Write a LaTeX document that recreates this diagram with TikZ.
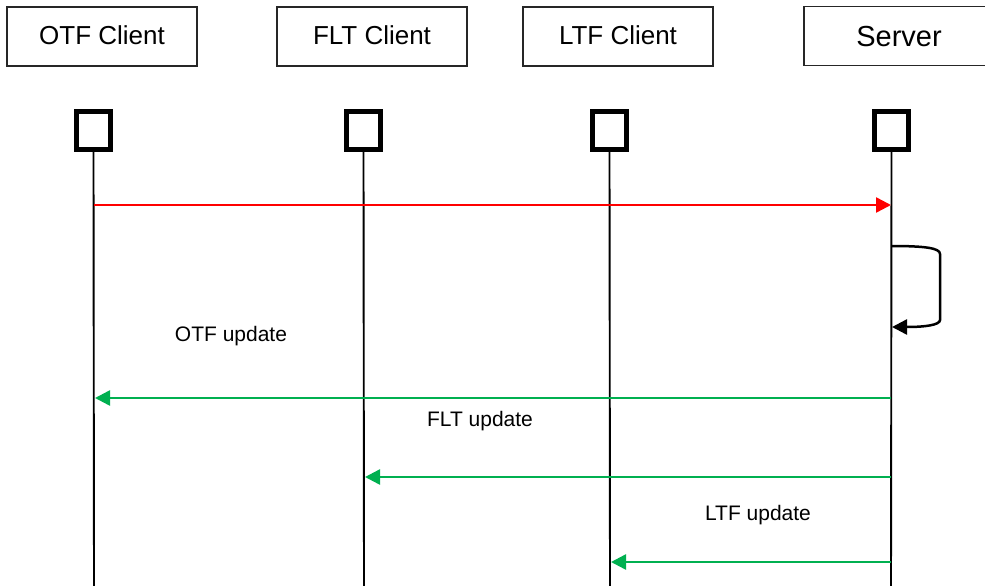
\documentclass[tikz,border=0pt]{standalone}
\usepackage{fontspec}
\setmainfont{Liberation Sans}
\usetikzlibrary{arrows.meta}
\definecolor{grn}{RGB}{0,176,80}
\definecolor{rd}{RGB}{255,0,0}
\tikzset{
  hdr/.style={draw=black!85, line width=1.3pt, minimum width=190pt, minimum height=59pt, inner sep=0pt, font=\fontsize{26}{30}\selectfont, text height=18.7pt, text depth=3.5pt},
  act/.style={draw=black, line width=5pt, minimum width=34pt, minimum height=38pt, inner sep=0pt, fill=white},
  life/.style={draw=black, line width=1.9pt},
  msg/.style={line width=2.5pt, -{Triangle[length=15pt,width=15pt]}},
  lbl/.style={anchor=base, font=\fontsize{21}{25}\selectfont, inner sep=0pt},
}
\begin{document}
\begin{tikzpicture}[x=1pt,y=-1pt]
\useasboundingbox (0,0) rectangle (985,586);
\clip (0,0) rectangle (985,586);
% headers
\node[hdr] (otf) at (102,36.5) {OTF Client};
\node[hdr] (flt) at (372,36.5) {FLT Client};
\node[hdr] (ltf) at (618,36.5) {LTF Client};
\node[hdr, font=\fontsize{29}{34}\selectfont, text height=22pt, text depth=0pt] (srv) at (899,36) {Server};
% activation squares
\node[act] (aotf) at (93.5,130.5) {};
\node[act] (aflt) at (363.5,130.5) {};
\node[act] (altf) at (609.5,130.5) {};
\node[act] (asrv) at (891.5,130.5) {};
% lifeline ends
\coordinate (eotf) at (94,590);
\coordinate (eflt) at (364,590);
\coordinate (eltf) at (610,590);
\coordinate (esrv) at (891,590);
\draw[life] (aotf.south) -- (eotf);
\draw[life] (aflt.south) -- (eflt);
\draw[life] (altf.south) -- (eltf);
\draw[life] (asrv.south) -- (esrv);
% message points
\coordinate (m1a) at (94,205);
\coordinate (m1b) at (891,205);
\coordinate (s1) at (891,246);
\coordinate (s2) at (892,327);
\coordinate (m2a) at (891,398);
\coordinate (m2b) at (95,398);
\coordinate (m3a) at (891,477);
\coordinate (m3b) at (365,477);
\coordinate (m4a) at (891,562);
\coordinate (m4b) at (611,562);
% messages
\draw[msg, rd] (m1a) -- (m1b);
\draw[msg, black] (s1) .. controls (925,246) and (940,248) .. (940,254) -- (940,320) .. controls (940,325) and (925,327) .. (s2);
\draw[msg, grn] (m2a) -- (m2b);
\draw[msg, grn] (m3a) -- (m3b);
\draw[msg, grn] (m4a) -- (m4b);
% labels
\node[lbl] (l1) at (231,341.5) {OTF update};
\node[lbl] (l2) at (480,426) {FLT update};
\node[lbl] (l3) at (758,520) {LTF update};
\end{tikzpicture}
\end{document}
